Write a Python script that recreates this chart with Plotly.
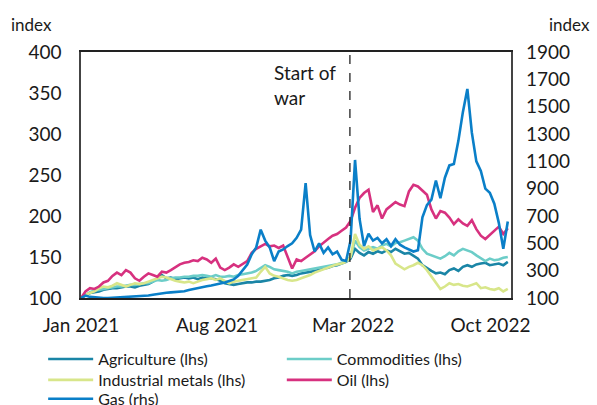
"""Commodity price indices around the start of the war (Jan 2021 = 100)."""

import pandas as pd
import plotly.graph_objects as go

# Weekly observations, index Jan 2021 = 100
START_DATE = "2021-01-01"
N_WEEKS = 96
DATES = pd.date_range(start=START_DATE, periods=N_WEEKS, freq="7D")

AGRICULTURE = [
    100, 103, 106, 107, 108, 110, 111, 112, 112, 113,
    114, 114, 113, 115, 116, 117, 120, 124, 128, 124,
    125, 123, 124, 125, 124, 125, 123, 125, 124, 124,
    123, 121, 118, 117, 116, 117, 118, 119, 119, 120,
    120, 121, 122, 124, 125, 127, 128, 127, 128, 130,
    131, 132, 133, 134, 136, 137, 139, 140, 142, 144,
    148, 160, 155, 152, 156, 154, 157, 155, 158, 156,
    160, 157, 154, 155, 152, 148, 140, 136, 133, 130,
    131, 129, 134, 136, 133, 138, 140, 138, 141, 142,
    143, 140, 141, 142, 140, 144,
]
COMMODITIES = [
    100, 104, 107, 109, 110, 111, 112, 113, 114, 114,
    115, 116, 116, 117, 118, 118, 120, 122, 121, 122,
    124, 125, 125, 126, 126, 127, 127, 128, 127, 126,
    128, 126, 126, 127, 126, 128, 129, 130, 131, 133,
    136, 140, 138, 135, 134, 133, 132, 130, 132, 133,
    134, 135, 136, 137, 138, 139, 140, 141, 143, 145,
    150, 170, 162, 158, 160, 162, 160, 164, 166, 163,
    167, 168, 170, 172, 174, 170, 160, 154, 152, 150,
    148, 151, 155, 152, 157, 160, 158, 156, 152, 148,
    145, 148, 146, 147, 149, 150,
]
INDUSTRIAL_METALS = [
    100, 104, 106, 108, 112, 114, 113, 115, 118, 116,
    114, 116, 118, 117, 118, 120, 122, 124, 126, 125,
    123, 121, 120, 119, 120, 118, 120, 122, 123, 124,
    122, 124, 121, 118, 120, 121, 122, 123, 124, 125,
    132, 138, 130, 127, 126, 124, 122, 121, 122, 124,
    126, 128, 131, 133, 135, 137, 139, 141, 142, 144,
    150, 178, 165, 160, 163, 158, 160, 162, 158, 152,
    142, 138, 135, 138, 140, 143, 140, 134, 126, 118,
    111, 114, 118, 116, 117, 115, 114, 116, 118, 112,
    113, 111, 110, 112, 108, 111,
]
OIL = [
    100, 108, 112, 111, 114, 119, 121, 127, 131, 128,
    134, 131, 124, 121, 126, 130, 128, 126, 132, 131,
    134, 138, 141, 143, 144, 146, 145, 149, 147, 143,
    148, 137, 134, 137, 141, 138, 142, 145, 155, 160,
    163, 166, 163, 164, 161, 164, 150, 136, 147, 145,
    149, 153, 157, 163, 168, 172, 176, 178, 182, 186,
    194, 210, 222, 228, 232, 205, 213, 197, 208, 212,
    217, 214, 212, 230, 238, 236, 231, 226, 208, 197,
    206, 204, 198, 190, 196, 191, 188, 195, 184, 176,
    172, 177, 181, 187, 178, 185,
]
GAS = [
    100, 118, 108, 104, 102, 100, 100, 102, 104, 106,
    105, 108, 110, 112, 115, 118, 124, 130, 136, 138,
    141, 144, 146, 150, 158, 166, 172, 178, 186, 192,
    198, 205, 214, 225, 236, 262, 300, 345, 420, 470,
    600, 520, 470, 370, 440, 455, 480, 500, 540, 600,
    940, 560, 440, 500, 430, 470, 420, 440, 380, 370,
    520, 1110, 680, 480, 570, 520, 540, 500, 530, 480,
    530, 490, 470, 455, 440, 450, 690, 780, 820, 960,
    830, 980, 1070, 1080, 1250, 1460, 1630, 1310, 1100, 1030,
    900, 870, 790, 650, 460, 660,
]

WAR_START = "2022-02-24"
X_RANGE = ["2021-01-01", "2022-11-02"]
X_TICKS = ["2021-01-01", "2021-08-01", "2022-03-01", "2022-10-01"]
X_TICK_TEXT = ["Jan 2021", "Aug 2021", "Mar 2022", "Oct 2022"]
LHS_TICKS = [100, 150, 200, 250, 300, 350, 400]
RHS_TICKS = [100, 300, 500, 700, 900, 1100, 1300, 1500, 1700, 1900]

# Colours
AGRI_TEAL = "#1A85A6"
COMM_TEAL = "#6CCDC8"
METAL_LIME = "#D8E68A"
OIL_PINK = "#D7317F"
GAS_BLUE = "#0A7FC8"
TEXT = "#1a1a1a"

FONT = "Lato, 'Open Sans', sans-serif"

fig = go.Figure()

# name, values, colour, y axis, legend slot
series = [
    ("Agriculture (lhs)", AGRICULTURE, AGRI_TEAL, "y", "legend"),
    ("Commodities (lhs)", COMMODITIES, COMM_TEAL, "y", "legend2"),
    ("Industrial metals (lhs)", INDUSTRIAL_METALS, METAL_LIME, "y", "legend3"),
    ("Oil (lhs)", OIL, OIL_PINK, "y", "legend4"),
    ("Gas (rhs)", GAS, GAS_BLUE, "y2", "legend5"),
]
for name, values, color, axis, legend in series:
    fig.add_trace(
        go.Scatter(
            x=DATES,
            y=values,
            name=name,
            mode="lines",
            yaxis=axis,
            legend=legend,
            line=dict(color=color, width=2.6),
        )
    )

# Start of war marker
fig.add_shape(
    type="line",
    xref="x",
    yref="paper",
    x0=WAR_START,
    x1=WAR_START,
    y0=0,
    y1=1,
    line=dict(color="#222222", width=1.3, dash="dash"),
)
fig.add_annotation(
    x=WAR_START,
    y=0.97,
    xref="x",
    yref="paper",
    text="Start of<br>war",
    showarrow=False,
    xanchor="left",
    yanchor="top",
    xshift=-78,
    align="left",
    font=dict(size=19, color=TEXT),
)

# Axis unit labels
fig.add_annotation(
    x=-0.168, y=1.063, xref="paper", yref="paper", text="index",
    showarrow=False, xanchor="left", yanchor="bottom", font=dict(size=17, color=TEXT),
)
fig.add_annotation(
    x=1.0, y=1.063, xref="paper", yref="paper", text="index",
    showarrow=False, xanchor="left", yanchor="bottom", xshift=36,
    font=dict(size=17, color=TEXT),
)

legend_style = dict(
    orientation="v",
    xanchor="left",
    yanchor="top",
    font=dict(size=16, color=TEXT),
    itemwidth=45,
    bgcolor="rgba(0,0,0,0)",
)
LEFT_COL, RIGHT_COL = -0.088, 0.467
ROW_Y = [-0.179, -0.264, -0.341]

fig.update_layout(
    width=597,
    height=405,
    margin=dict(l=81, r=86, t=52, b=107, autoexpand=False),
    paper_bgcolor="white",
    plot_bgcolor="white",
    font=dict(family=FONT, size=19, color=TEXT),
    showlegend=True,
    legend=dict(x=LEFT_COL, y=ROW_Y[0], **legend_style),
    legend2=dict(x=RIGHT_COL, y=ROW_Y[0], **legend_style),
    legend3=dict(x=LEFT_COL, y=ROW_Y[1], **legend_style),
    legend4=dict(x=RIGHT_COL, y=ROW_Y[1], **legend_style),
    legend5=dict(x=LEFT_COL, y=ROW_Y[2], **legend_style),
    xaxis=dict(
        type="date",
        range=X_RANGE,
        tickvals=X_TICKS,
        ticktext=X_TICK_TEXT,
        showgrid=False,
        showline=True,
        linecolor="#222222",
        linewidth=2,
        mirror=True,
        ticks="",
        ticklabelstandoff=9,
    ),
    yaxis=dict(
        range=LHS_TICKS[0:1] + LHS_TICKS[-1:],
        tickvals=LHS_TICKS,
        showgrid=False,
        zeroline=False,
        showline=True,
        linecolor="#444444",
        linewidth=1.5,
        mirror=True,
        ticks="",
        ticklabelstandoff=14,
    ),
    yaxis2=dict(
        range=RHS_TICKS[0:1] + RHS_TICKS[-1:],
        tickvals=RHS_TICKS,
        overlaying="y",
        side="right",
        showgrid=False,
        zeroline=False,
        showline=False,
        ticks="",
        ticklabelstandoff=14,
    ),
)

fig.write_html(
    "out.html",
    config={"displayModeBar": False},
    post_script="document.body.style.margin = '0px';",
)
